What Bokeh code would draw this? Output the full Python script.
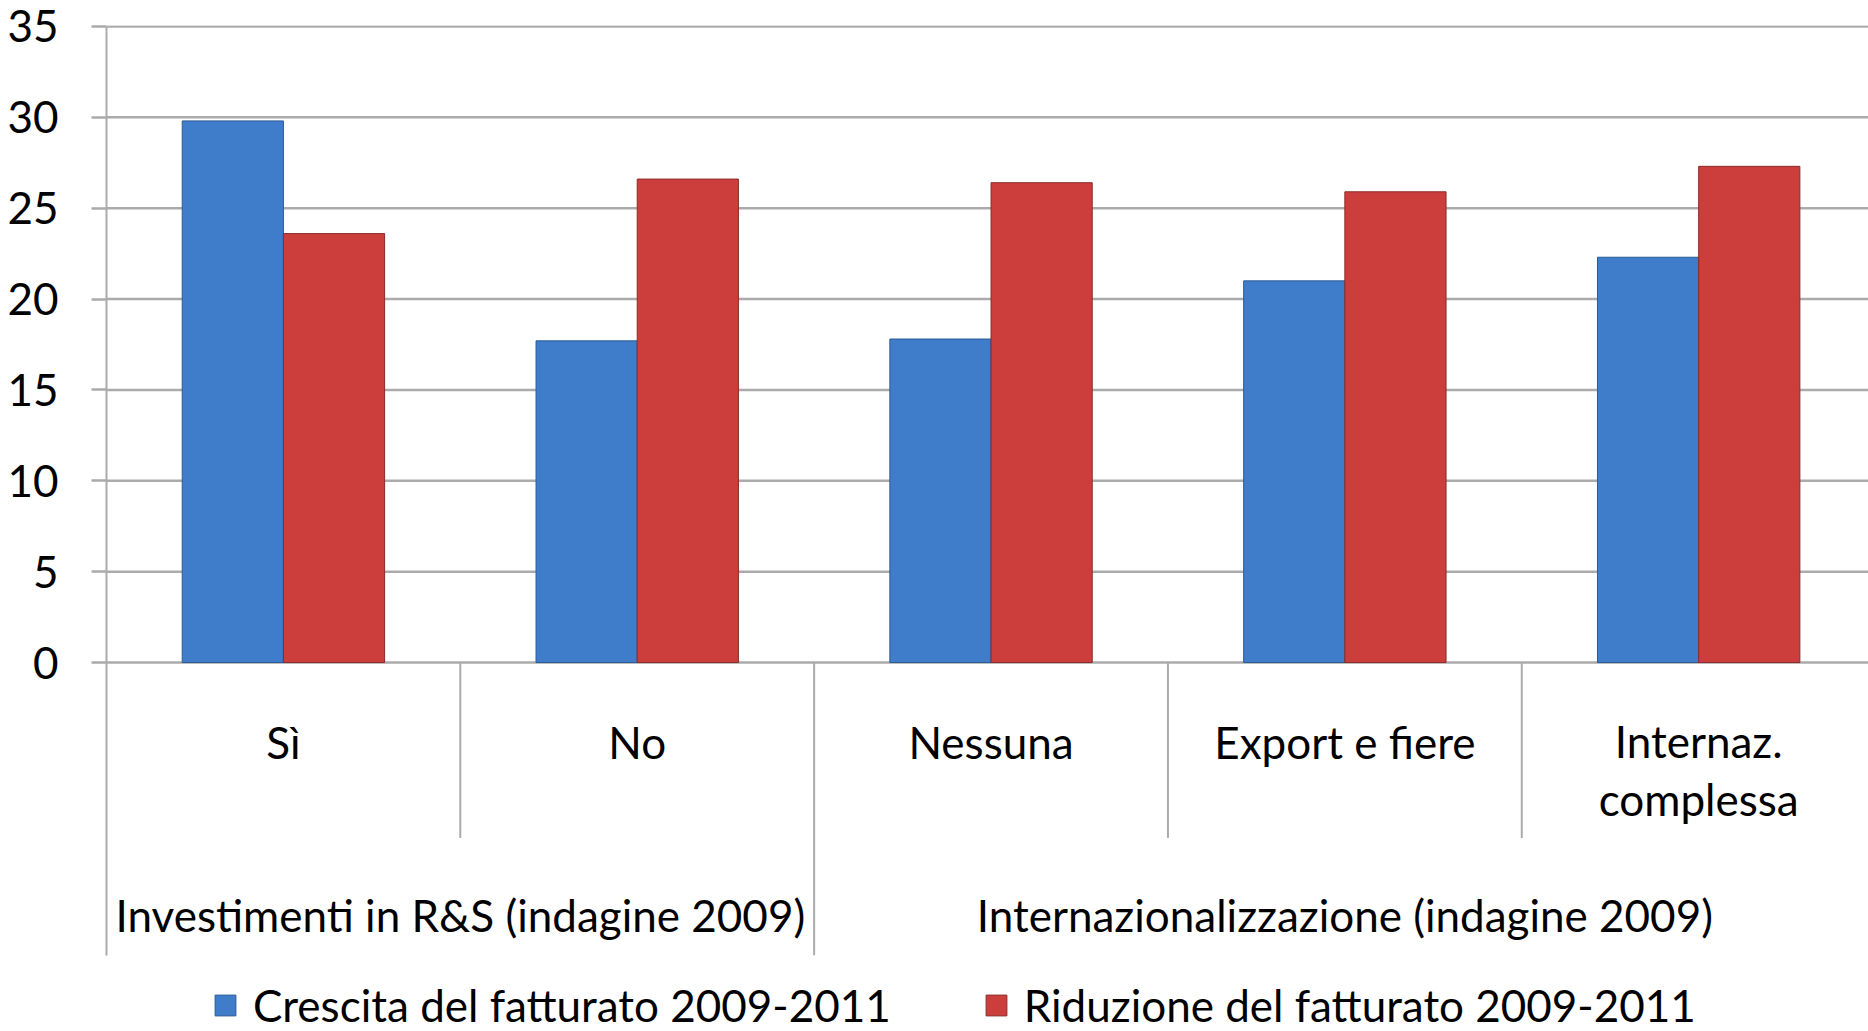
from bokeh.plotting import figure
from bokeh.models import ColumnDataSource, Range1d, FixedTicker, Legend, LegendItem
from bokeh.core.properties import value
from bokeh.embed import file_html
from bokeh.resources import INLINE

# ---- data ----
categories = ["Sì", "No", "Nessuna", "Export e fiere", "Internaz.\ncomplessa"]
groups = ["Investimenti in R&S (indagine 2009)", "Internazionalizzazione (indagine 2009)"]
group_sizes = [2, 3]
crescita = [29.8, 17.7, 17.8, 21.0, 22.3]
riduzione = [23.6, 26.6, 26.4, 25.9, 27.3]
series_names = ["Crescita del fatturato 2009-2011", "Riduzione del fatturato 2009-2011"]
y_ticks = [0, 5, 10, 15, 20, 25, 30, 35]

FONT = "Lato"
FS = "44px"
GRID = "#ababab"

n = len(categories)
centers = [i + 0.5 for i in range(n)]
bar_w = 0.286
off = bar_w / 2

Y_MAX = 35.05
Y_MIN = -20.30
AXIS_BOTTOM = -16.1
X_MAX = 4.98

p = figure(width=1868, height=1031, output_backend="svg", toolbar_location=None,
           x_range=Range1d(0, X_MAX), y_range=Range1d(Y_MIN, Y_MAX),
           min_border_left=106, min_border_top=25, min_border_right=0, min_border_bottom=0)
p.outline_line_color = None
p.xgrid.visible = False
p.ygrid.visible = False
p.xaxis.visible = False

# horizontal grid lines (0..35) drawn across the bar area
p.segment(x0=[0] * len(y_ticks), x1=[X_MAX + 1] * len(y_ticks), y0=y_ticks, y1=y_ticks,
          line_color=GRID, line_width=2.5)

# category separators
inner_sep = []
outer_sep = []
pos = 0
for gs in group_sizes:
    for k in range(1, gs):
        inner_sep.append(pos + k)
    pos += gs
    if pos < n:
        outer_sep.append(pos)
p.segment(x0=inner_sep, x1=inner_sep, y0=[0] * len(inner_sep), y1=[-9.65] * len(inner_sep),
          line_color=GRID, line_width=2)
p.segment(x0=outer_sep, x1=outer_sep, y0=[0] * len(outer_sep), y1=[AXIS_BOTTOM] * len(outer_sep),
          line_color=GRID, line_width=2)

src = ColumnDataSource(dict(
    xb=[c - off for c in centers], xr=[c + off for c in centers],
    crescita=crescita, riduzione=riduzione))
rb = p.vbar(x="xb", top="crescita", bottom=0, width=bar_w, source=src,
            fill_color="#3f7cc9", line_color="#2c5a96", line_width=1)
rr = p.vbar(x="xr", top="riduzione", bottom=0, width=bar_w, source=src,
            fill_color="#cc3e3c", line_color="#8c2a28", line_width=1)

# category labels
line_gap = 3.13
lab_y = [-4.35 - (c.count("\n")) * line_gap / 2 for c in categories]
p.text(x=centers, y=lab_y, text=categories, text_align="center", text_baseline="middle",
       text_font=value(FONT), text_font_size=FS, text_color="#000000", text_line_height=1.1)

# group labels
gx = []
pos = 0
for gs in group_sizes:
    gx.append(pos + gs / 2)
    pos += gs
p.text(x=gx, y=[-13.9] * len(groups), text=groups, text_align="center", text_baseline="middle",
       text_font=value(FONT), text_font_size=FS, text_color="#000000")

# y axis
ax = p.yaxis[0]
ax.ticker = FixedTicker(ticks=y_ticks)
ax.bounds = (AXIS_BOTTOM, 35)
ax.axis_line_color = GRID
ax.axis_line_width = 2
ax.major_tick_line_color = GRID
ax.major_tick_line_width = 2.5
ax.major_tick_out = 15
ax.major_tick_in = 0
ax.minor_tick_line_color = None
ax.major_label_standoff = 33
ax.major_label_text_font = FONT
ax.major_label_text_font_size = FS
ax.major_label_text_color = "#000000"

legend = Legend(items=[LegendItem(label=series_names[0], renderers=[rb]),
                       LegendItem(label=series_names[1], renderers=[rr])],
                orientation="horizontal", location=(106, 0),
                label_text_font=FONT, label_text_font_size=FS, label_text_color="#000000",
                glyph_width=26, glyph_height=26, label_standoff=15, spacing=92,
                border_line_color=None, background_fill_alpha=0, padding=0, margin=0)
p.add_layout(legend, "center")

open("out.html", "w").write(file_html(p, INLINE))
